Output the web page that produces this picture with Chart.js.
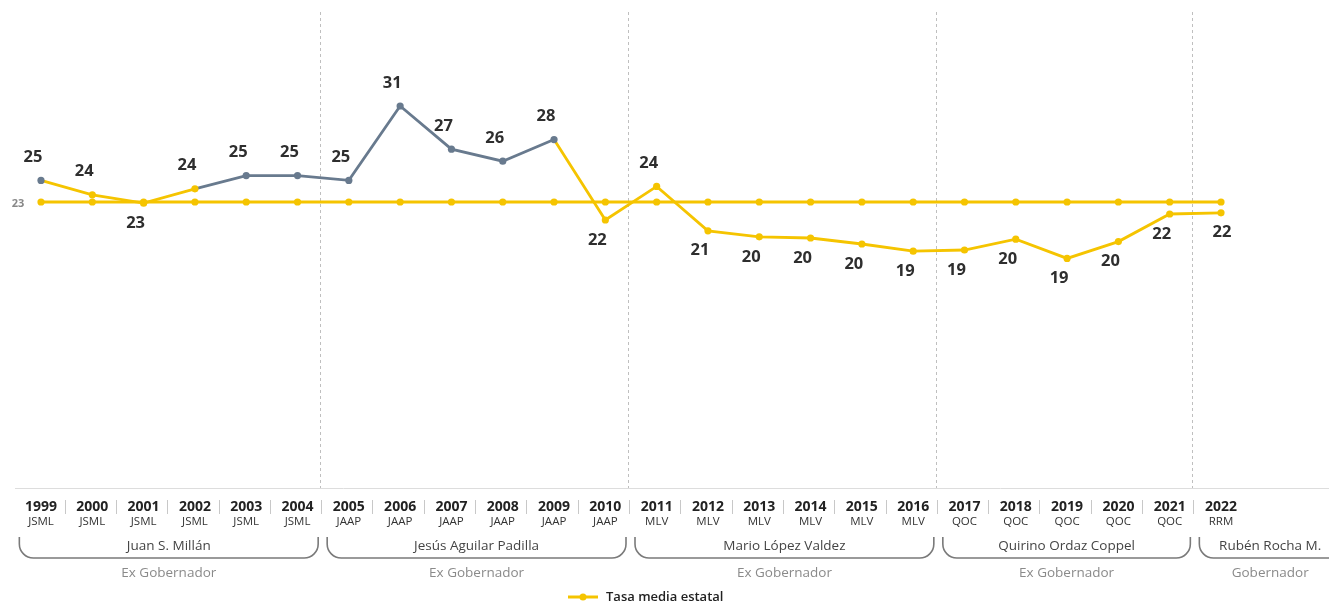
<!DOCTYPE html>
<html><head><meta charset="utf-8">
<script src="https://cdn.jsdelivr.net/npm/chart.js@4"></script>
<style>html,body{margin:0;padding:0;background:#fff}#wrap{width:1329px;height:605px;position:relative}</style>
</head><body><div id="wrap"><canvas id="c"></canvas></div>
<script>
const years = ['1999','2000','2001','2002','2003','2004','2005','2006','2007','2008','2009','2010','2011','2012','2013','2014','2015','2016','2017','2018','2019','2020','2021','2022'];
const initials = ['JSML','JSML','JSML','JSML','JSML','JSML','JAAP','JAAP','JAAP','JAAP','JAAP','JAAP','MLV','MLV','MLV','MLV','MLV','MLV','QOC','QOC','QOC','QOC','QOC','RRM'];
const rates = [24.8,23.6,22.9,24.1,25.2,25.2,24.8,31.0,27.4,26.4,28.2,21.5,24.3,20.6,20.1,20.0,19.5,18.9,19.0,19.9,18.3,19.7,22.0,22.1];
const rateLabels = ['25','24','23','24','25','25','25','31','27','26','28','22','24','21','20','20','20','19','19','20','19','20','22','22'];
const meanValues = [23,23,23,23,23,23,23,23,23,23,23,23,23,23,23,23,23,23,23,23,23,23,23,23];
const meanLabel = '23';
const governors = ['Juan S. Millán','Jesús Aguilar Padilla','Mario López Valdez','Quirino Ordaz Coppel','Rubén Rocha M.'];
const governorRoles = ['Ex Gobernador','Ex Gobernador','Ex Gobernador','Ex Gobernador','Gobernador'];
const governorTerms = [[0,5],[6,11],[12,17],[18,22],[23,23]];
const legendLabel = 'Tasa media estatal';

const YELLOW = '#F5C400';
const GRAY = '#687A8E';
const HIGH = 24.5;
const FONT = '"Open Sans", "DejaVu Sans", sans-serif';

const colorFor = v => v >= HIGH ? GRAY : YELLOW;

const decor = {
  id: 'decor',
  beforeDatasetsDraw(chart) {
    const {ctx, chartArea: a, scales: {x}} = chart;
    ctx.save();
    ctx.strokeStyle = '#dddddd'; ctx.lineWidth = 1;
    ctx.beginPath(); ctx.moveTo(15, a.bottom + 0.5); ctx.lineTo(chart.width, a.bottom + 0.5); ctx.stroke();
    ctx.strokeStyle = '#bfbfbf'; ctx.setLineDash([3, 3]);
    for (let g = 0; g < governorTerms.length - 1; g++) {
      const xm = Math.round((x.getPixelForValue(governorTerms[g][1]) + x.getPixelForValue(governorTerms[g + 1][0])) / 2) - 2.5;
      ctx.beginPath(); ctx.moveTo(xm, a.top); ctx.lineTo(xm, a.bottom); ctx.stroke();
    }
    ctx.restore();
  },
  afterDraw(chart) {
    const {ctx, chartArea: a, scales: {x, y}} = chart;
    ctx.save();
    ctx.font = '700 16.5px ' + FONT; ctx.fillStyle = '#2e2e2e'; ctx.textAlign = 'center'; ctx.textBaseline = 'middle';
    const meta = chart.getDatasetMeta(0);
    const last = meta.data.length - 1;
    meta.data.forEach((pt, i) => {
      const above = rates[i] > meanValues[i];
      const dx = i === last ? 1 : -8;
      ctx.fillText(rateLabels[i], pt.x + dx, pt.y + (above ? -23 : 20));
    });
    ctx.font = '700 11px ' + FONT; ctx.fillStyle = '#888'; ctx.textAlign = 'center';
    ctx.fillText(meanLabel, 18, y.getPixelForValue(meanValues[0]) + 2);
    const bottom = a.bottom;
    years.forEach((yr, i) => {
      const px = x.getPixelForValue(i);
      ctx.font = '700 14px ' + FONT; ctx.fillStyle = '#222';
      ctx.fillText(yr, px, bottom + 19);
      ctx.font = '400 11.5px ' + FONT; ctx.fillStyle = '#333';
      ctx.fillText(initials[i], px, bottom + 34);
      if (i < years.length - 1) {
        const xm = Math.round((px + x.getPixelForValue(i + 1)) / 2) - 1.5;
        ctx.strokeStyle = '#c8c8c8'; ctx.lineWidth = 1;
        ctx.beginPath(); ctx.moveTo(xm, bottom + 12); ctx.lineTo(xm, bottom + 26); ctx.stroke();
      }
    });
    const step = x.getPixelForValue(1) - x.getPixelForValue(0);
    const top = bottom + 49, bot = bottom + 70, r = 14;
    governorTerms.forEach((t, g) => {
      const x0 = x.getPixelForValue(t[0]) - step / 2 + 4;
      const x1 = g === governorTerms.length - 1 ? chart.width + 12 : x.getPixelForValue(t[1]) + step / 2 - 5;
      ctx.strokeStyle = '#7a7a7a'; ctx.lineWidth = 1.6;
      ctx.beginPath();
      ctx.moveTo(x0, top);
      ctx.arcTo(x0, bot, x0 + r, bot, r);
      ctx.lineTo(x1 - r, bot);
      ctx.arcTo(x1, bot, x1, top, r);
      ctx.lineTo(x1, top);
      ctx.stroke();
      const cx = (x0 + x1) / 2;
      ctx.font = '400 13.5px ' + FONT; ctx.fillStyle = '#444';
      ctx.fillText(governors[g], cx, bottom + 58);
      ctx.fillStyle = '#8a8a8a';
      ctx.fillText(governorRoles[g], cx, bottom + 85);
    });
    const ly = 597, lx = 568;
    ctx.strokeStyle = YELLOW; ctx.lineWidth = 3;
    ctx.beginPath(); ctx.moveTo(lx, ly); ctx.lineTo(lx + 30, ly); ctx.stroke();
    ctx.fillStyle = YELLOW; ctx.beginPath(); ctx.arc(lx + 15, ly, 3.5, 0, Math.PI * 2); ctx.fill();
    ctx.font = '600 13px ' + FONT; ctx.fillStyle = '#222'; ctx.textAlign = 'left';
    ctx.fillText(legendLabel, lx + 38, ly);
    ctx.restore();
  }
};

new Chart(document.getElementById('c'), {
  type: 'line',
  data: {
    labels: years,
    datasets: [
      {
        label: 'Tasa',
        data: rates,
        borderWidth: 2.8,
        borderColor: YELLOW,
        segment: { borderColor: c => colorFor(c.p1.parsed.y) },
        pointRadius: 3.6, pointHoverRadius: 3.6,
        pointBackgroundColor: c => colorFor(c.raw),
        pointBorderWidth: 0,
        tension: 0, clip: false, order: 0
      },
      {
        label: legendLabel,
        data: meanValues,
        borderWidth: 2.8,
        borderColor: YELLOW,
        pointRadius: 3.6, pointHoverRadius: 3.6,
        pointBackgroundColor: YELLOW,
        pointBorderWidth: 0,
        tension: 0, clip: false, order: 1
      }
    ]
  },
  options: {
    responsive: true, maintainAspectRatio: false, animation: false,
    layout: { padding: { left: 41, right: 108, top: 12, bottom: 117 } },
    plugins: { legend: { display: false }, tooltip: { enabled: false } },
    scales: {
      x: { display: false, offset: false },
      y: { display: false, min: -0.83, max: 38.83 }
    }
  },
  plugins: [decor]
});
</script></body></html>
